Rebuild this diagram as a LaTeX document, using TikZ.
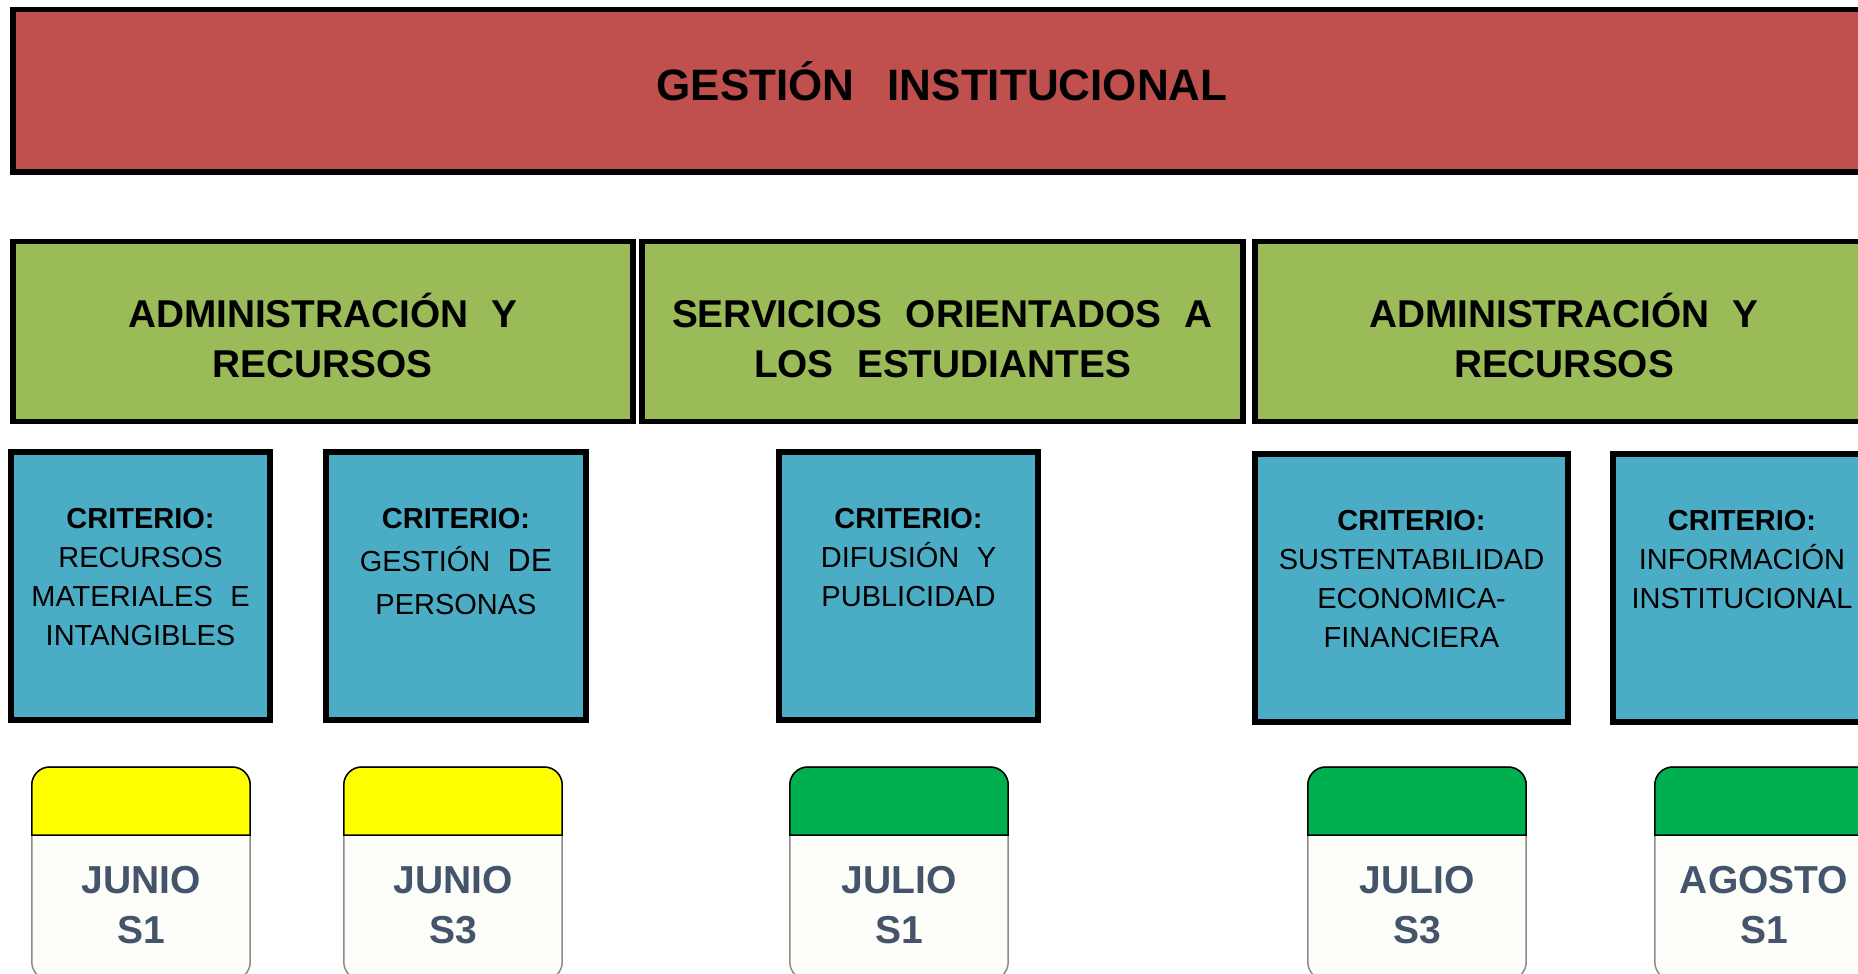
\documentclass[tikz,border=0pt]{standalone}
\usepackage{fontspec}
\setmainfont{Liberation Sans}
\usetikzlibrary{positioning}

\definecolor{rojo}{RGB}{192,80,77}
\definecolor{verdeeje}{RGB}{155,187,89}
\definecolor{azulcrit}{RGB}{75,172,198}
\definecolor{amarillo}{RGB}{255,255,0}
\definecolor{verdemes}{RGB}{0,176,80}
\definecolor{grismes}{RGB}{68,84,106}
\definecolor{fondomes}{RGB}{253,253,249}
\newcommand{\hueco}{\hspace{0.6em}}

\begin{document}
\begin{tikzpicture}[x=0.5pt, y=-0.5pt,
	caja/.style={draw=black, line width=2.8pt, inner sep=0pt, outer sep=0pt},
	eje/.style={caja, fill=verdeeje, minimum height=90pt},
	crit/.style={caja, fill=azulcrit, minimum height=134pt},
	titulo/.style={anchor=north, inner sep=0pt, font=\fontsize{22}{30}\selectfont\bfseries},
	ejetxt/.style={anchor=north, inner sep=0pt, align=center, font=\fontsize{19.4}{25}\selectfont\bfseries},
	critxt/.style={anchor=north, inner sep=0pt, align=center, font=\fontsize{14.5}{19.5}\selectfont},
	mes/.style={draw=gray!90, line width=0.75pt, fill=fondomes, rounded corners=9pt, inner sep=0pt, outer sep=0pt, minimum width=109.2pt, minimum height=106.5pt},
	cabecera/.style={draw=black, line width=0.75pt},
	mestxt/.style={anchor=north, inner sep=0pt, align=center, text=grismes, font=\fontsize{19.5}{25}\selectfont\bfseries}]

\useasboundingbox (0,0) rectangle (1858,974);
\clip (0,0) rectangle (1858,974);
\fill[white] (0,0) rectangle (1858,974);

%\draw[step=50pt, gray!40] (0,0) grid (1858,974);

\node[caja, fill=rojo, minimum width=929pt, minimum height=81.15pt] (gi) at (942, 90.85) {};
\node[titulo, below=24.15pt of gi.north] (tit) {\strut GESTIÓN\hspace{0.75em}INSTITUCIONAL};

\node[eje, minimum width=310.1pt] (e1) at (322.9, 331.5) {};
\node[eje, minimum width=300.5pt] (e2) at (942.5, 331.5) {};
\node[eje, minimum width=309pt] (e3) at (1564, 331.5) {};
\node[ejetxt, below=25.5pt of e1.north] (te1) {\strut ADMINISTRACIÓN\hueco Y\\RECURSOS};
\node[ejetxt, below=25.5pt of e2.north] (te2) {\strut SERVICIOS\hueco ORIENTADOS\hueco A\\LOS\hueco ESTUDIANTES};
\node[ejetxt, below=25.5pt of e3.north] (te3) {\strut ADMINISTRACIÓN\hueco Y\\RECURSOS};

\node[crit, minimum width=129.5pt] (c1) at (140.5, 586) {};
\node[crit, minimum width=130pt] (c2) at (456, 586) {};
\node[crit, minimum width=129.5pt] (c3) at (908.5, 586) {};
\node[crit, minimum width=156.5pt] (c4) at (1411.5, 588) {};
\node[crit, minimum width=129pt] (c5) at (1742, 588) {};

\node[critxt, below=24.35pt of c1.north] (tc1) {\strut\textbf{CRITERIO:}\\RECURSOS\\MATERIALES\hueco E\\INTANGIBLES};
\node[critxt, below=24.35pt of c2.north] (tc2) {\strut\textbf{CRITERIO:}\\[2pt]GESTIÓN\hueco{\fontsize{16}{19.5}\selectfont DE}\\[2pt]PERSONAS};
\node[critxt, below=24.35pt of c3.north] (tc3) {\strut\textbf{CRITERIO:}\\DIFUSIÓN\hueco Y\\PUBLICIDAD};
\node[critxt, below=24.35pt of c4.north] (tc4) {\strut\textbf{CRITERIO:}\\SUSTENTABILIDAD\\ECONOMICA-\\FINANCIERA};
\node[critxt, below=24.35pt of c5.north] (tc5) {\strut\textbf{CRITERIO:}\\INFORMACIÓN\\INSTITUCIONAL};

	\foreach \cx/\col/\mesn/\sem/\i in {141/amarillo/JUNIO/S1/1, 453/amarillo/JUNIO/S3/2, 899/verdemes/JULIO/S1/3, 1417/verdemes/JULIO/S3/4, 1764/verdemes/AGOSTO/S1/5}
	{
		\node[mes] (m\i) at (\cx, 873.5) {};
		\draw[cabecera, fill=\col] ([yshift=-34pt]m\i.north west) [rounded corners=9pt] -- (m\i.north west) -- (m\i.north east) [sharp corners] -- ([yshift=-34pt]m\i.north east) -- cycle;
		\node[mestxt, below=45.5pt of m\i.north] (f\i) {\strut\mesn\\\sem};
	}

\end{tikzpicture}
\end{document}
